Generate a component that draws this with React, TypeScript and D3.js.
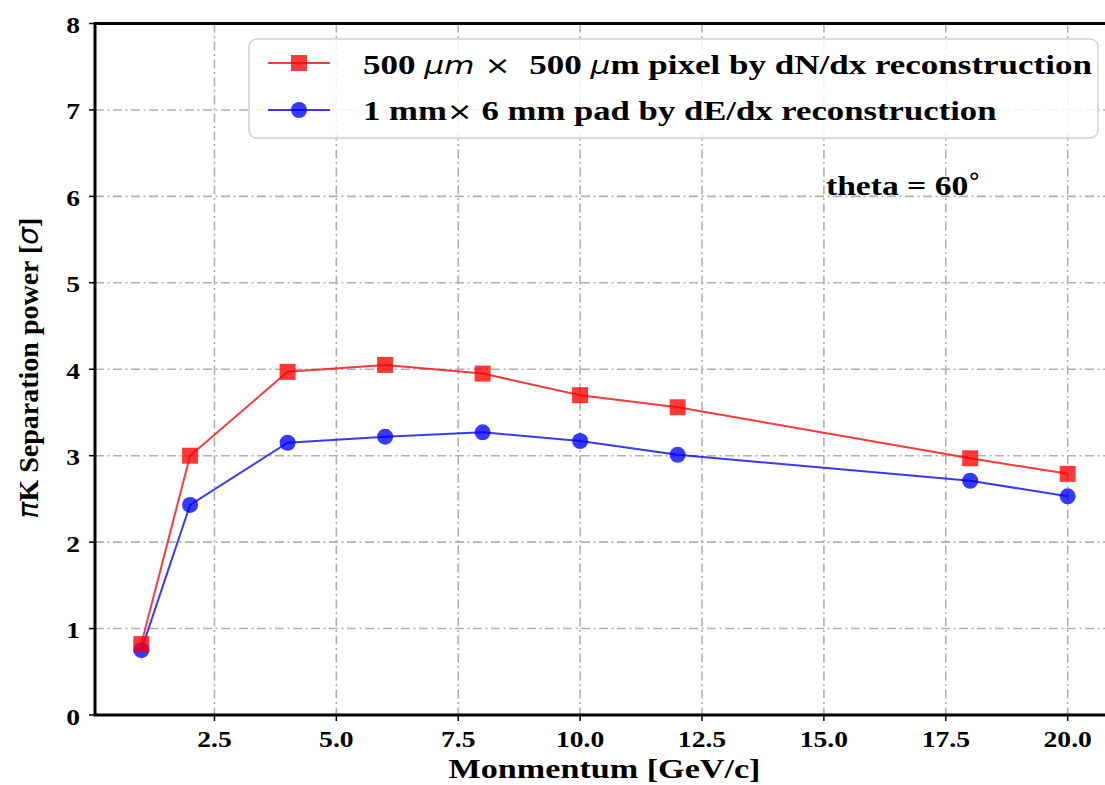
import React from "react";
import * as d3 from "d3";

const momentum = [1, 2, 4, 6, 8, 10, 12, 18, 20];
const pixelSep = [0.82, 3.0, 3.97, 4.05, 3.95, 3.7, 3.56, 2.97, 2.79];
const padSep = [0.75, 2.43, 3.15, 3.22, 3.27, 3.17, 3.01, 2.71, 2.53];
const xTicks = [2.5, 5.0, 7.5, 10.0, 12.5, 15.0, 17.5, 20.0];
const yTicks = [0, 1, 2, 3, 4, 5, 6, 7, 8];

const W = 1105, H = 785;
const L = 95, R = 1114, T = 23.5, B = 715;
const SERIF = "'Liberation Serif', 'Times New Roman', serif";
const SANS = "'DejaVu Sans', sans-serif";
const GRID_DASH = "9,3.5,2,3.5";
const SX = 1.2;

export default function App() {
  const x = d3.scaleLinear().domain([0.05, 20.95]).range([L, R]);
  const y = d3.scaleLinear().domain([0, 8]).range([B, T]);
  const line = d3.line<number>().x((_, i) => x(momentum[i])).y((d) => y(d));
  const red = "rgba(255,0,0,0.78)";
  const blue = "rgba(0,0,255,0.78)";
  const sq = 16;
  return (
    <svg width={W} height={H} style={{ position: "absolute", left: 0, top: 0, background: "#fff" }}>
      <defs>
        <clipPath id="plot"><rect x={L} y={T} width={R - L} height={B - T} /></clipPath>
      </defs>
      {/* grid */}
      <g stroke="#b0b0b0" strokeWidth={1.6} strokeDasharray={GRID_DASH}>
        {xTicks.map((t) => (
          <line key={"gx" + t} x1={x(t)} x2={x(t)} y1={T} y2={B} />
        ))}
        {yTicks.map((t) => (
          <line key={"gy" + t} x1={L} x2={R} y1={y(t)} y2={y(t)} />
        ))}
      </g>
      {/* series */}
      <g clipPath="url(#plot)">
        <path d={line(padSep) || ""} fill="none" stroke={blue} strokeWidth={2} />
        {padSep.map((v, i) => (
          <circle key={"b" + i} cx={x(momentum[i])} cy={y(v)} r={8} fill={blue} />
        ))}
        <path d={line(pixelSep) || ""} fill="none" stroke={red} strokeWidth={2} />
        {pixelSep.map((v, i) => (
          <rect key={"r" + i} x={x(momentum[i]) - sq / 2} y={y(v) - sq / 2} width={sq} height={sq} fill={red} />
        ))}
      </g>
      {/* spines */}
      <rect x={L} y={T} width={R - L} height={B - T} fill="none" stroke="#000" strokeWidth={3} />
      {/* ticks */}
      <g stroke="#000" strokeWidth={1.5}>
        {xTicks.map((t) => (
          <line key={"tx" + t} x1={x(t)} x2={x(t)} y1={B} y2={B + 6} />
        ))}
        {yTicks.map((t) => (
          <line key={"ty" + t} x1={L - 6} x2={L} y1={y(t)} y2={y(t)} />
        ))}
      </g>
      <g fontFamily={SERIF} fontWeight="bold" fontSize={23} fill="#000">
        {xTicks.map((t) => (
          <text key={"lx" + t} transform={`translate(${x(t)},747) scale(${SX},1)`} textAnchor="middle">{t.toFixed(1)}</text>
        ))}
        {yTicks.map((t) => (
          <text key={"ly" + t} transform={`translate(80,${y(t) + 9.5}) scale(${SX},1)`} textAnchor="end">{t}</text>
        ))}
      </g>
      {/* axis labels */}
      <text transform={`translate(${(L + R) / 2},778) scale(1.22,1)`} textAnchor="middle" fontFamily={SERIF} fontWeight="bold" fontSize={28}>
        Monmentum [GeV/c]
      </text>
      <text transform={`translate(38,368) rotate(-90)`} textAnchor="middle" fontFamily={SERIF} fontWeight="bold" fontSize={28}>
        <tspan fontStyle="italic" fontFamily={SANS} fontWeight="normal">π</tspan>K Separation power [<tspan fontStyle="italic" fontFamily={SANS} fontWeight="normal">σ</tspan>]
      </text>
      {/* legend */}
      <rect x={249} y={39} width={849} height={99} rx={8} fill="rgba(255,255,255,0.85)" stroke="#d0d0d0" strokeWidth={1.5} />
      <line x1={268} x2={330} y1={63} y2={63} stroke={red} strokeWidth={2} />
      <rect x={299 - sq / 2} y={63 - sq / 2} width={sq} height={sq} fill={red} />
      <line x1={268} x2={330} y1={110} y2={110} stroke={blue} strokeWidth={2} />
      <circle cx={299} cy={110} r={8} fill={blue} />
      <g fontFamily={SERIF} fontWeight="bold" fontSize={28} fill="#000">
        <text transform="translate(363,74) scale(1.25,1)" style={{ whiteSpace: "pre" }}>
          500 <tspan fontFamily={SANS} fontStyle="italic" fontWeight="normal" fontSize={25}>μm</tspan><tspan fontFamily={SANS} fontWeight="normal" fontSize={25}>{" × "}</tspan>{" 500 "}<tspan fontFamily={SANS} fontStyle="italic" fontWeight="normal" fontSize={25}>μ</tspan>m pixel by dN/dx reconstruction
        </text>
        <text transform="translate(363,120) scale(1.24,1)">
          1 mm<tspan fontFamily={SANS} fontWeight="normal" fontSize={25}>×</tspan> 6 mm pad by dE/dx reconstruction
        </text>
        <text transform="translate(826,195) scale(1.2,1)">theta = 60</text>
      </g>
      <text x={968} y={191} fontFamily={SANS} fontSize={25}>°</text>
    </svg>
  );
}
